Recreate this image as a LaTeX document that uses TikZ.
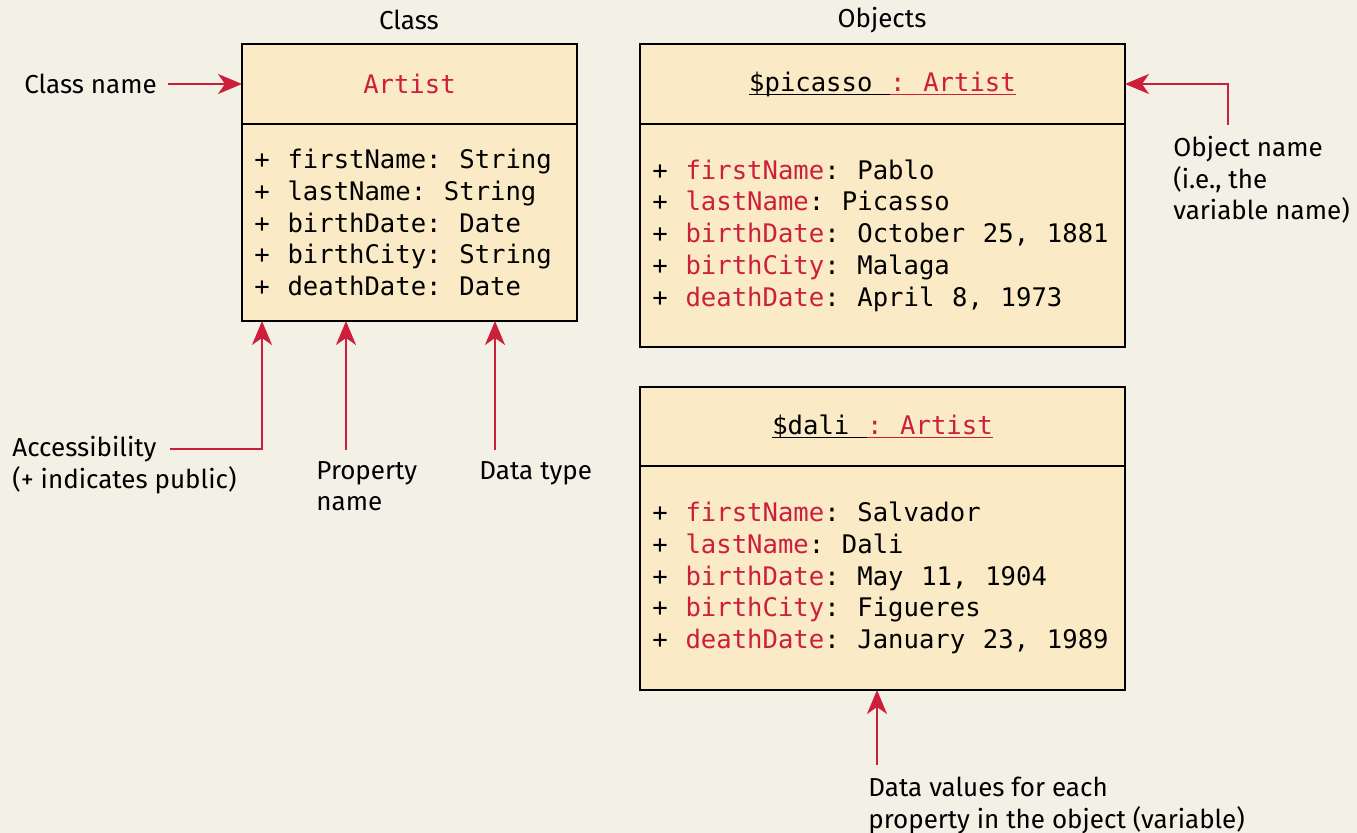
\documentclass[tikz,border=0pt]{standalone}
\usepackage{fontspec}
\usepackage{xcolor}
\usetikzlibrary{arrows.meta}
\newfontfamily\labelfont{Fira Sans}
\newfontfamily\codefont{DejaVu Sans Mono}[WordSpace=1.15]
\definecolor{pagebg}{HTML}{F3F1E6}
\definecolor{boxfill}{HTML}{FAEAC6}
\definecolor{attrred}{HTML}{CC1F3C}
\newcommand{\attr}[1]{\textcolor{attrred}{#1}}
\newcommand{\objtitle}[1]{\underbar{#1\ }{\color{attrred}\underbar{: Artist}}}

\begin{document}
\begin{tikzpicture}[x=0.5pt, y=-0.5pt,
  paths/.style={-{Stealth[length=12pt, width=10pt, inset=3.5pt]}, draw=attrred, line width=1.2pt},
  code/.style={font=\codefont\frenchspacing\fontsize{12.8}{15.85}\selectfont},
  uml/.style={code, draw=black, line width=1.3pt, fill=boxfill, rectangle, inner sep=0pt, outer sep=0pt},
  fields/.style={code, inner sep=0pt, align=left, anchor=west},
  caption/.style={inner sep=0pt, font=\labelfont\fontsize{13}{15.75}\selectfont, align=left}]

 \useasboundingbox (0,0) rectangle (1357,833);
 \fill [pagebg] (0,0) rectangle (1357,833);


 \node [caption] (class_title) at (409,20) {Class};
 \node [caption] (objects_title) at (882,20) {Objects};


 \node [uml, minimum width=167.5pt, minimum height=40pt, anchor=north] (class_head) at (409.5,44)
     {\attr{Artist}};
 \node [uml, minimum width=167.5pt, minimum height=98.5pt, anchor=north] (class_body) at (class_head.south) {};
 \node [fields] (class_fields) at ([xshift=6pt]class_body.west)
     {+ firstName: String\\
      + lastName: String\\
      + birthDate: Date\\
      + birthCity: String\\
      + deathDate: Date};

 \node [uml, minimum width=242.5pt, minimum height=40pt, anchor=north] (picasso_head) at (882.5,44)
     {\objtitle{\$picasso}};
 \node [uml, minimum width=242.5pt, minimum height=111.5pt, anchor=north] (picasso_body) at (picasso_head.south) {};
 \node [fields] (picasso_fields) at ([xshift=6pt]picasso_body.west)
     {+ \attr{firstName}: Pablo\\
      + \attr{lastName}: Picasso\\
      + \attr{birthDate}: October 25, 1881\\
      + \attr{birthCity}: Malaga\\
      + \attr{deathDate}: April 8, 1973};

 \node [uml, minimum width=242.5pt, minimum height=39.5pt, anchor=north] (dali_head) at (882.5,387)
     {\objtitle{\$dali}};
 \node [uml, minimum width=242.5pt, minimum height=112pt, anchor=north] (dali_body) at (dali_head.south) {};
 \node [fields] (dali_fields) at ([xshift=6pt]dali_body.west)
     {+ \attr{firstName}: Salvador\\
      + \attr{lastName}: Dali\\
      + \attr{birthDate}: May 11, 1904\\
      + \attr{birthCity}: Figueres\\
      + \attr{deathDate}: January 23, 1989};


 \node [caption, anchor=west] (classname_label) at (24,84)
     {Class name};

 \node [caption, anchor=north west] (objname_label) at (1173,136)
     {Object name\\(i.e., the\\variable name)};

 \node [caption, anchor=north west] (access_label) at (12,436)
     {Accessibility\\(+ indicates public)};

 \node [caption, anchor=north west] (prop_label) at (316,461)
     {Property\\name};

 \node [caption, anchor=north west] (type_label) at (479,461)
     {Data type};

 \node [caption, anchor=north west] (values_label) at (868,777)
     {Data values for each\\property in the object (variable)};


 \coordinate (objname_start) at (1228,125);
 \coordinate (access_start) at (170,449);
 \coordinate (access_bend) at (262,449);
 \coordinate (prop_start) at (346,450);
 \coordinate (type_start) at (495,450);
 \coordinate (values_start) at (877,765);


 \draw [paths, shorten <=5.5pt] (classname_label.east) -- (classname_label.east -| class_head.west);
 \draw [paths] (objname_start) |- (picasso_head.east);
 \draw [paths] (access_start) -- (access_bend) -- (access_bend |- class_body.south);
 \draw [paths] (prop_start) -- (prop_start |- class_body.south);
 \draw [paths] (type_start) -- (type_start |- class_body.south);
 \draw [paths] (values_start) -- (values_start |- dali_body.south);


\end{tikzpicture}
\end{document}
